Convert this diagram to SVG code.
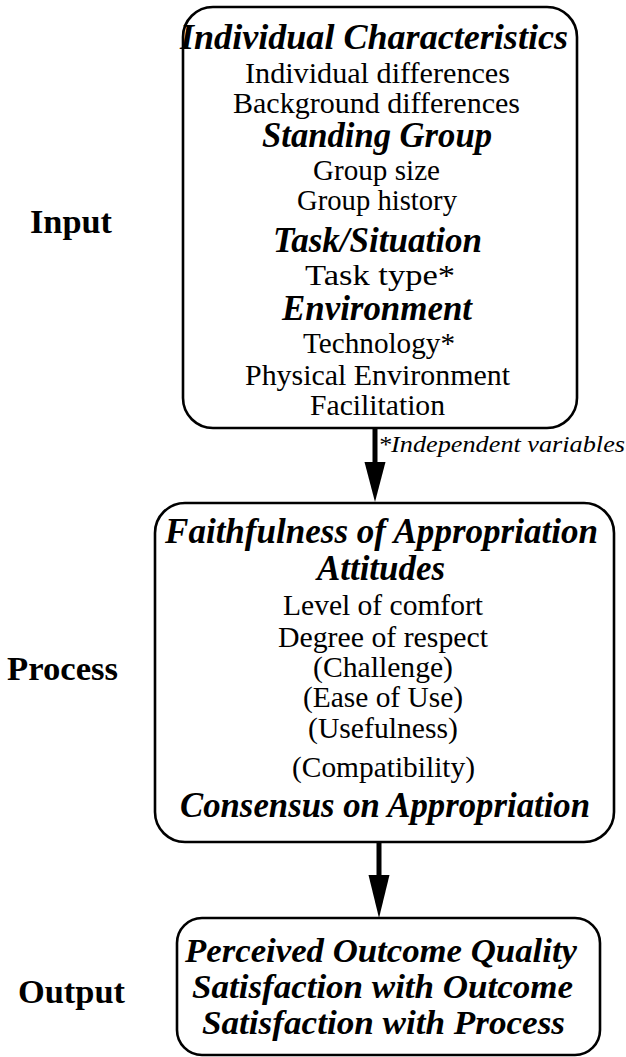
<svg xmlns="http://www.w3.org/2000/svg" width="626" height="1057" viewBox="0 0 626 1057">
  <style>
    text { font-family: "Liberation Serif", "Times New Roman", serif; fill: #000; text-anchor: middle; }
    .stage { font-weight: bold; font-size: 33px; text-anchor: start; }
    .head { font-weight: bold; font-style: italic; font-size: 35px; }
    .item { font-size: 30px; }
    .out { font-weight: bold; font-style: italic; font-size: 34px; }
    .note { font-style: italic; font-size: 24px; text-anchor: start; }
    .box { fill: #fff; stroke: #000; stroke-width: 2.6; }
    .shaft { stroke: #000; stroke-width: 5; fill: none; }
    .head-tri { fill: #000; }
  </style>

  <!-- stage labels -->
  <g id="stage-labels">
    <text class="stage" x="30" y="233" textLength="82" lengthAdjust="spacingAndGlyphs">Input</text>
    <text class="stage" x="7" y="680" textLength="111" lengthAdjust="spacingAndGlyphs">Process</text>
    <text class="stage" x="18" y="1003" textLength="107" lengthAdjust="spacingAndGlyphs">Output</text>
  </g>

  <!-- connectors -->
  <g id="connectors">
    <line class="shaft" x1="375" y1="428" x2="375" y2="464"/>
    <polygon class="head-tri" points="364.5,462 385.5,462 375,502"/>
    <line class="shaft" x1="379" y1="842" x2="379" y2="877"/>
    <polygon class="head-tri" points="368.5,875 389.5,875 379,918"/>
    <text class="note" x="378" y="452" textLength="247" lengthAdjust="spacingAndGlyphs">*Independent variables</text>
  </g>

  <!-- input box -->
  <g id="input">
    <rect class="box" x="183" y="7" width="394" height="421" rx="30" ry="30"/>
    <text class="head" x="374" y="49" textLength="388" lengthAdjust="spacingAndGlyphs">Individual Characteristics</text>
    <text class="item" x="377.5" y="83" textLength="265" lengthAdjust="spacingAndGlyphs">Individual differences</text>
    <text class="item" x="376.5" y="113" textLength="287" lengthAdjust="spacingAndGlyphs">Background differences</text>
    <text class="head" x="377" y="147" textLength="230" lengthAdjust="spacingAndGlyphs">Standing Group</text>
    <text class="item" x="376.5" y="180" textLength="127" lengthAdjust="spacingAndGlyphs">Group size</text>
    <text class="item" x="377" y="210" textLength="160" lengthAdjust="spacingAndGlyphs">Group history</text>
    <text class="head" x="377.5" y="252" textLength="209" lengthAdjust="spacingAndGlyphs">Task/Situation</text>
    <text class="item" x="380" y="285" textLength="150" lengthAdjust="spacingAndGlyphs">Task type*</text>
    <text class="head" x="377" y="320" textLength="190" lengthAdjust="spacingAndGlyphs">Environment</text>
    <text class="item" x="379" y="353" textLength="152" lengthAdjust="spacingAndGlyphs">Technology*</text>
    <text class="item" x="377.5" y="385" textLength="265" lengthAdjust="spacingAndGlyphs">Physical Environment</text>
    <text class="item" x="377.5" y="415" textLength="135" lengthAdjust="spacingAndGlyphs">Facilitation</text>
  </g>

  <!-- process box -->
  <g id="process">
    <rect class="box" x="155" y="503" width="459" height="339" rx="30" ry="30"/>
    <text class="head" x="381.5" y="543" textLength="433" lengthAdjust="spacingAndGlyphs">Faithfulness of Appropriation</text>
    <text class="head" x="381" y="580" textLength="128" lengthAdjust="spacingAndGlyphs">Attitudes</text>
    <text class="item" x="383" y="615" textLength="200" lengthAdjust="spacingAndGlyphs">Level of comfort</text>
    <text class="item" x="383" y="647" textLength="210" lengthAdjust="spacingAndGlyphs">Degree of respect</text>
    <text class="item" x="383" y="677" textLength="140" lengthAdjust="spacingAndGlyphs">(Challenge)</text>
    <text class="item" x="383" y="707" textLength="160" lengthAdjust="spacingAndGlyphs">(Ease of Use)</text>
    <text class="item" x="383" y="738" textLength="150" lengthAdjust="spacingAndGlyphs">(Usefulness)</text>
    <text class="item" x="383.5" y="777" textLength="183" lengthAdjust="spacingAndGlyphs">(Compatibility)</text>
    <text class="head" x="385" y="817" textLength="410" lengthAdjust="spacingAndGlyphs">Consensus on Appropriation</text>
  </g>

  <!-- output box -->
  <g id="output">
    <rect class="box" x="177" y="918" width="423" height="137" rx="25" ry="25"/>
    <text class="out" x="381" y="962" textLength="392" lengthAdjust="spacingAndGlyphs">Perceived Outcome Quality</text>
    <text class="out" x="382.5" y="998" textLength="381" lengthAdjust="spacingAndGlyphs">Satisfaction with Outcome</text>
    <text class="out" x="383.5" y="1034" textLength="363" lengthAdjust="spacingAndGlyphs">Satisfaction with Process</text>
  </g>
</svg>
